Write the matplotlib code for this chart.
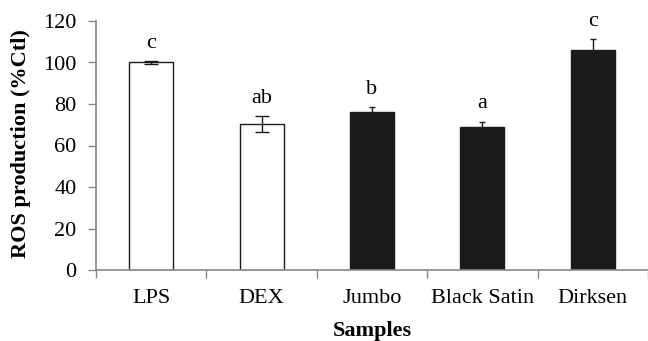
import matplotlib
matplotlib.use("Agg")
import matplotlib.pyplot as plt
import numpy as np

samples = ["LPS", "DEX", "Jumbo", "Black Satin", "Dirksen"]
ros = [100.0, 70.4, 76.1, 68.9, 106.0]
sem = [0.5, 3.7, 2.6, 2.6, 5.3]
letters = ["c", "ab", "b", "a", "c"]
fills = ["white", "white", "#1a1a1a", "#1a1a1a", "#1a1a1a"]

plt.rcParams["font.family"] = ["Liberation Serif", "DejaVu Serif"]
plt.rcParams["font.size"] = 15

fig = plt.figure(figsize=(6.48, 3.41), dpi=100)
ax = fig.add_axes([96 / 648, 71 / 341, 552 / 648, 249 / 341])

x = np.arange(len(samples))
ax.bar(x, ros, width=0.4, color=fills, edgecolor="#1a1a1a", linewidth=1.0, zorder=2)
# open bars get wider caps than the filled ones in the original
for xi, v, e, f in zip(x, ros, sem, fills):
    cap = 5 if f == "white" else 2.5
    ax.errorbar(xi, v, yerr=e, fmt="none", ecolor="#1a1a1a", elinewidth=1.0,
                capsize=cap, capthick=1.0, zorder=3)
for xi, v, e, lab in zip(x, ros, sem, letters):
    ax.text(xi, v + e + 8.5, lab, ha="center", va="center", fontsize=16)

ax.set_xlim(-0.5, len(samples) - 0.5)
ax.set_ylim(0, 120)
ax.set_yticks(np.arange(0, 121, 20))
ax.set_xticks(x)
ax.set_xticklabels(samples, fontsize=16)
ax.set_xticks(np.arange(-0.5, len(samples), 1.0), minor=True)
ax.tick_params(axis="x", which="major", length=0, pad=14)
ax.tick_params(axis="x", which="minor", length=6, color="#888888", width=1)
ax.tick_params(axis="y", length=6, color="#888888", width=1, pad=8, labelsize=16)

for s in ["top", "right"]:
    ax.spines[s].set_visible(False)
for s in ["left", "bottom"]:
    ax.spines[s].set_color("#888888")
    ax.spines[s].set_linewidth(1.2)

ax.set_ylabel("ROS production (%Ctl)", fontweight="bold", fontsize=16)
ax.yaxis.set_label_coords(-0.117, 0.506)
ax.set_xlabel("Samples", fontweight="bold", fontsize=16, va="center")
ax.xaxis.set_label_coords(0.5, -0.245)

fig.savefig("out.png", dpi=100)
